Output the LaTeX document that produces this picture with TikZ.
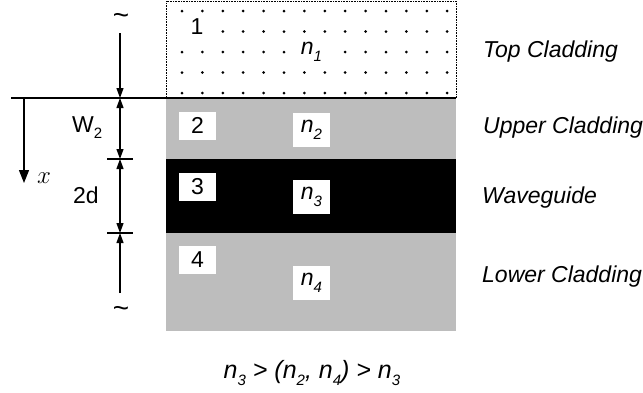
\documentclass[tikz,border=0pt]{standalone}
\usepackage{fontspec}
\setmainfont{Liberation Sans}
\usetikzlibrary{arrows.meta, positioning}
\definecolor{cladgray}{gray}{0.74}
\newcommand{\nidx}[1]{\textit{n}\raisebox{-7pt}{\fontsize{15}{15}\selectfont\itshape #1}}

\begin{document}
\begin{tikzpicture}[x=1pt, y=-1pt, font=\fontsize{23}{27}\selectfont,
    dimline/.style={line width=1.2pt, {Triangle[length=10pt,width=7pt]}-{Triangle[length=10pt,width=7pt]}},
    tag/.style={fill=white, inner sep=0pt, minimum width=37pt, minimum height=28pt},
    nbox/.style={fill=white, inner sep=0pt, minimum width=37pt, minimum height=34pt},
    side/.style={anchor=base west, inner sep=0pt, font=\fontsize{23}{27}\selectfont\itshape},
    tilde/.style={inner sep=0pt, font=\fontsize{28}{30}\selectfont}]
    \useasboundingbox (0,0) rectangle (643,392);

    % Layers
    \fill[cladgray] (166,98) rectangle (456,159);
    \fill[black] (166,159) rectangle (456,233);
    \fill[cladgray] (166,233) rectangle (456,331);
    \draw[densely dotted, line width=0.6pt] (166,98) -- (166,1) -- (456,1) -- (456,98);
    \foreach \i in {0,...,13}
        \foreach \j in {0,...,4}
            \fill (182+20.4*\i, 11+20.5*\j) circle (1.5pt);

    % Interface
    \draw[line width=2pt] (11,98) -- (456,98);

    % Region numbers and indices
    \node[tag] (tag1) at (197,27) {1};
    \node[tag] (tag2) at (197.5,125.5) {2};
    \node[tag] (tag3) at (197.5,187) {3};
    \node[tag] (tag4) at (197.5,260) {4};
    \node[nbox] (n1) at (311.5,52) {\nidx{1}};
    \node[nbox] (n2) at (311.5,129.5) {\nidx{2}};
    \node[nbox] (n3) at (311.5,196.5) {\nidx{3}};
    \node[nbox] (n4) at (311.5,282.5) {\nidx{4}};

    % Layer names
    \node[side] (top) at (483,57) {Top Cladding};
    \node[side] (upper) at (483,133) {Upper Cladding};
    \node[side] (wg) at (482,203) {Waveguide};
    \node[side] (lower) at (482,282) {Lower Cladding};

    % Dimensions
    \node[tilde] (tiltop) at (121,19) {\textasciitilde};
    \node[tilde] (tilbot) at (121,312) {\textasciitilde};
    \coordinate (d0) at (120,33);
    \coordinate (d1) at (120,98);
    \coordinate (d2) at (120,159);
    \coordinate (d3) at (120,233);
    \coordinate (d4) at (120,293);
    \draw[line width=1.2pt, -{Triangle[length=10pt,width=7pt]}] (d0) -- (d1);
    \draw[dimline] (d1) -- (d2);
    \draw[dimline] (d2) -- (d3);
    \draw[line width=1.2pt, -{Triangle[length=10pt,width=7pt]}] (d4) -- (d3);
    \draw[line width=1.2pt] ([xshift=-13pt]d2) -- ([xshift=13pt]d2);
    \draw[line width=1.2pt] ([xshift=-13pt]d3) -- ([xshift=13pt]d3);
    \node[anchor=base west, inner sep=0pt] (w2) at (72,132) {W\raisebox{-6pt}{\fontsize{15}{15}\selectfont 2}};
    \node[anchor=base west, inner sep=0pt] (dd) at (73,203) {2d};

    % Axis
    \coordinate (x0) at (24,98);
    \coordinate (x1) at (24,183);
    \draw[line width=1.2pt, -{Triangle[length=13pt,width=10pt]}] (x0) -- (x1);
    \node[anchor=base west, inner sep=0pt, font=\fontsize{25}{28}\selectfont] (xlab) at (37,183) {$x$};

    % Index condition
    \node[anchor=base, inner sep=0pt, font=\fontsize{25}{29}\selectfont] (cond) at (312,378) {\itshape \nidx{3} > (\nidx{2}, \nidx{4}) > \nidx{3}};
\end{tikzpicture}
\end{document}
